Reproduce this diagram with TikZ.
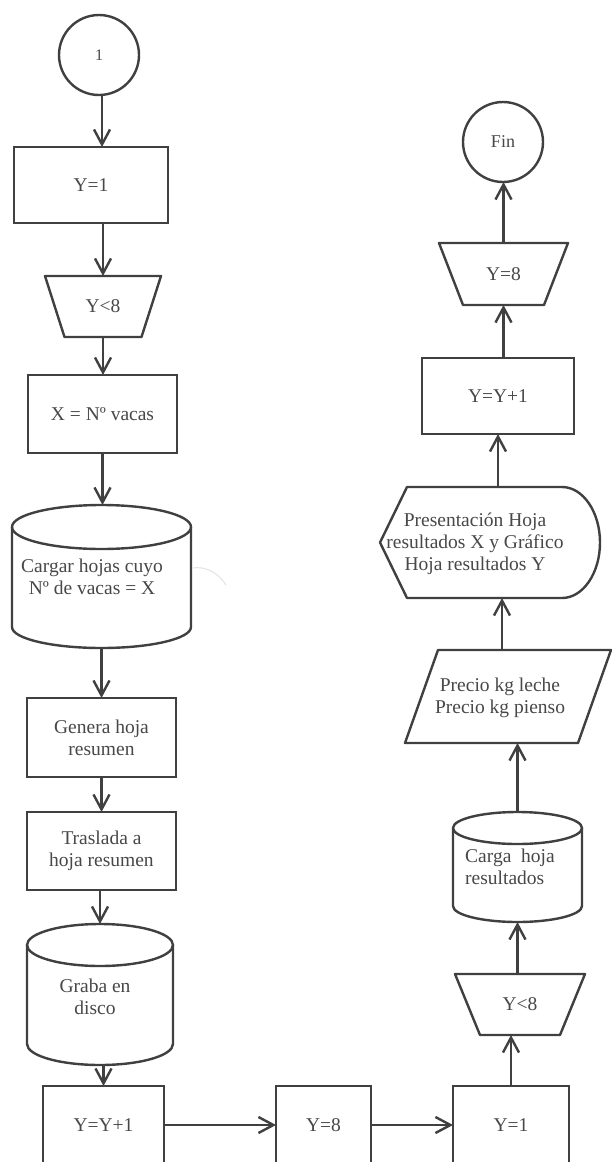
\documentclass[tikz,border=0pt]{standalone}
\usepackage{fontspec}
\setmainfont{Liberation Serif}
\usetikzlibrary{arrows.meta,calc}
\definecolor{ln}{RGB}{64,64,64}
\definecolor{tx}{RGB}{72,72,72}
\begin{document}
\begin{tikzpicture}[x=1pt,y=-1pt,
  every node/.style={font=\fontsize{19.5}{22}\selectfont, text=tx, inner sep=0pt, outer sep=0pt, align=center},
  box/.style={draw=ln, line width=2.4pt, rectangle},
  rnd/.style={draw=ln, line width=2.4pt, circle, minimum size=80pt},
  frame/.style={rectangle},
  shp/.style={draw=ln, line width=2.4pt, line join=round},
  arr/.style={draw=ln, line width=2.4pt, -{Straight Barb[length=15pt,width=16pt]}},
]
\useasboundingbox (0,0) rectangle (612,1162);
\fill[white] (0,0) rectangle (612,1162);

% ---------- left column ----------
\node[rnd, font=\fontsize{16}{18}\selectfont] (c1) at (99,55) {1};
\node[box, minimum width=154pt, minimum height=76pt] (y1) at (91,185) {Y=1};
\node[frame, minimum width=116pt, minimum height=61pt] (t1) at (103,306.5) {Y<8};
\node[box, minimum width=149pt, minimum height=78pt] (xv) at (102.5,414) {X = Nº vacas};
\node[frame, minimum width=179pt, minimum height=143pt] (cy1) at (101.5,576.5) {};
\node (cy1t) at (92,577) {Cargar hojas cuyo\\Nº de vacas = X};
\node[box, minimum width=149pt, minimum height=79pt] (gen) at (101.5,737.5) {Genera hoja\\resumen};
\node[box, minimum width=149pt, minimum height=78pt] (tra) at (101.5,851) {Traslada a\\hoja resumen};
\node[frame, minimum width=146pt, minimum height=141pt] (cy2) at (100,994.5) {};
\node (cy2t) at (95,997) {Graba en\\disco};

% ---------- bottom row ----------
\node[box, minimum width=121pt, minimum height=78pt] (yy1) at (103.5,1125) {Y=Y+1};
\node[box, minimum width=95pt, minimum height=78pt] (y8) at (323.5,1125) {Y=8};
\node[box, minimum width=116pt, minimum height=78pt] (y1b) at (511,1125) {Y=1};

% ---------- right column ----------
\node[frame, minimum width=130pt, minimum height=61pt] (t2) at (520,1004.5) {Y<8};
\node[frame, minimum width=129pt, minimum height=110pt] (cy3) at (517.5,867) {};
\node[align=left] (cy3t) at (510,867) {Carga\ \ hoja\\resultados};
\node[frame, minimum width=173pt, minimum height=93pt] (par) at (508,696.5) {};
\node (part) at (500,698) {Precio kg leche\\Precio kg pienso};
\node[frame, minimum width=220pt, minimum height=111pt] (dsp) at (490,542.5) {};
\node (dspt) at (475,544) {Presentación Hoja\\resultados X y Gráfico\\Hoja resultados Y};
\node[box, minimum width=152pt, minimum height=76pt] (yy2) at (498,396) {Y=Y+1};
\node[frame, minimum width=129pt, minimum height=62pt] (t3) at (503.5,274) {Y=8};
\node[rnd, font=\fontsize{18}{20}\selectfont] (fin) at (503,142) {Fin};

% ---------- shape outlines ----------
\draw[shp] (t1.north west) -- (t1.north east) -- ([xshift=-19.5pt]t1.south east) -- ([xshift=19.5pt]t1.south west) -- cycle;
\draw[shp] (t2.north west) -- (t2.north east) -- ([xshift=-25pt]t2.south east) -- ([xshift=25pt]t2.south west) -- cycle;
\draw[shp] (t3.north west) -- (t3.north east) -- ([xshift=-24pt]t3.south east) -- ([xshift=24pt]t3.south west) -- cycle;

\draw[shp] ([yshift=-22pt]cy1.north) ellipse [x radius=89.5pt, y radius=22pt];
\draw[shp] ([yshift=-22pt]cy1.north west) -- ([yshift=21pt]cy1.south west) arc[start angle=180, end angle=360, x radius=89.5pt, y radius=21pt] -- ([yshift=-22pt]cy1.north east);

\draw[shp] ([yshift=-21pt]cy2.north) ellipse [x radius=73pt, y radius=21pt];
\draw[shp] ([yshift=-21pt]cy2.north west) -- ([yshift=21pt]cy2.south west) arc[start angle=180, end angle=360, x radius=73pt, y radius=21pt] -- ([yshift=-21pt]cy2.north east);

\draw[shp] ([yshift=-16pt]cy3.north) ellipse [x radius=64.5pt, y radius=16pt];
\draw[shp] ([yshift=-16pt]cy3.north west) -- ([yshift=16pt]cy3.south west) arc[start angle=180, end angle=360, x radius=64.5pt, y radius=16pt] -- ([yshift=-16pt]cy3.north east);

\draw[shp] ([xshift=-16.5pt]par.south west) -- ([xshift=-16.5pt]par.south east) -- ([xshift=16.5pt]par.north east) -- ([xshift=16.5pt]par.north west) -- cycle;

\draw[shp] (dsp.west) -- ([xshift=27pt]dsp.north west) -- ([xshift=-38pt]dsp.north east) arc[start angle=90, end angle=-90, x radius=38pt, y radius=55.5pt] -- ([xshift=27pt]dsp.south west) -- cycle;

% faint scan mark
\draw[gray!22, line width=1pt] (192,568) .. controls (205,566) and (218,572) .. (226,585);

% ---------- connectors ----------
\draw[arr] ([xshift=3pt]c1.south) -- ([xshift=3pt]c1.south |- y1.north);
\draw[arr] (t1.north |- y1.south) -- (t1.north);
\draw[arr] (t1.south) -- (t1.south |- xv.north);
\draw[arr] (xv.south) -- (xv.south |- cy1.north);
\draw[arr] (cy1.south) -- (cy1.south |- gen.north);
\draw[arr] (gen.south) -- (gen.south |- tra.north);
\draw[arr] (cy2.north |- tra.south) -- (cy2.north);
\draw[arr] (yy1.north |- cy2.south) -- (yy1.north);
\draw[arr] (yy1.east) -- (y8.west);
\draw[arr] (y8.east) -- (y1b.west);
\draw[arr] (y1b.north) -- (y1b.north |- t2.south);
\draw[arr] (cy3.south |- t2.north) -- (cy3.south);
\draw[arr] (cy3.north) -- (cy3.north |- par.south);
\draw[arr] ([xshift=-6pt]par.north) -- ([xshift=-6pt]par.north |- dsp.south);
\draw[arr] (yy2.south |- dsp.north) -- (yy2.south);
\draw[arr] (t3.south |- yy2.north) -- (t3.south);
\draw[arr] (t3.north) -- (t3.north |- fin.south);
\end{tikzpicture}
\end{document}
